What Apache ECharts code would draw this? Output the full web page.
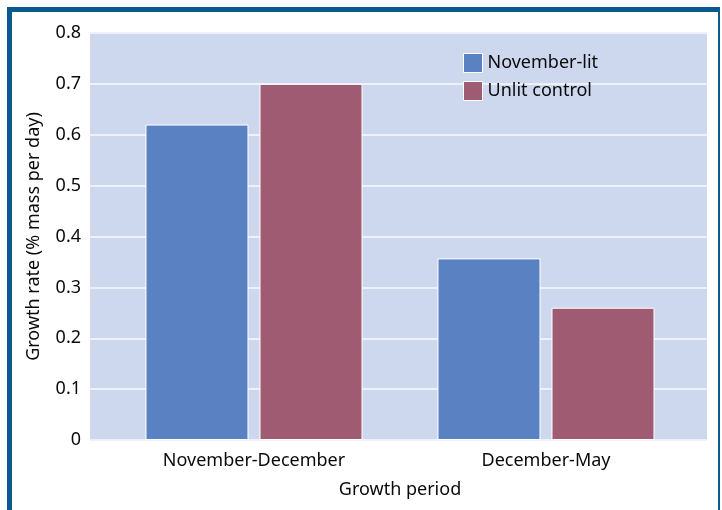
<!DOCTYPE html>
<html>
<head>
<meta charset="utf-8">
<script src="https://cdn.jsdelivr.net/npm/echarts@6/dist/echarts.min.js"></script>
<style>
  html, body { margin: 0; padding: 0; background: #fff; }
  #wrap { position: relative; width: 722px; height: 510px; overflow: hidden; }
  #chart { position: absolute; left: 0; top: 0; width: 722px; height: 510px; }
  #frame {
    position: absolute; left: 7px; top: 7px; width: 706px; height: 520px;
    border-top: 5px solid #0b5a8e; border-left: 5px solid #0b5a8e; border-right: 2px solid #0b5a8e;
    pointer-events: none;
  }
</style>
</head>
<body>
<div id="wrap">
  <div id="chart"></div>
  <div id="frame"></div>
</div>
<script>
var categories = ['November-December', 'December-May'];
var novemberLit = [0.62, 0.357];
var unlitControl = [0.70, 0.26];
var yTicks = [0, 0.1, 0.2, 0.3, 0.4, 0.5, 0.6, 0.7, 0.8];

var font = 'Noto Sans';
var txt = '#0a0a0a';

var option = {
  animation: false,
  textStyle: { fontFamily: font },
  grid: [
    // background + y axis
    { left: 90, right: 15, top: 33, bottom: 70, show: true, backgroundColor: '#cdd7ee', borderWidth: 0 },
    // bars
    { left: 108, right: 30, top: 33, bottom: 70 }
  ],
  legend: {
    orient: 'vertical',
    left: 463, top: 53, padding: 0,
    itemWidth: 19, itemHeight: 19, itemGap: 8,
    icon: 'rect',
    itemStyle: { borderColor: '#ffffff', borderWidth: 1 },
    textStyle: { fontSize: 18, lineHeight: 19, color: txt, fontFamily: font },
    data: ['November-lit', 'Unlit control']
  },
  xAxis: [
    {
      gridIndex: 0, type: 'value', min: 0, max: 1, show: false
    },
    {
      gridIndex: 1, type: 'category', data: categories,
      name: 'Growth period', nameLocation: 'middle', nameGap: 41,
      nameTextStyle: { fontSize: 18, color: txt, fontFamily: font },
      axisLine: { show: false }, axisTick: { show: false },
      axisLabel: { fontSize: 18, color: txt, margin: 12 }
    }
  ],
  yAxis: [
    {
      gridIndex: 0, type: 'value', min: 0, max: 0.8, interval: 0.1,
      name: 'Growth rate (% mass per day)', nameLocation: 'middle', nameGap: 47,
      nameTextStyle: { fontSize: 18, color: txt, fontFamily: font },
      axisLine: { show: false }, axisTick: { show: false },
      axisLabel: {
        fontSize: 18, color: txt, margin: 9,
        formatter: function (v) {
          var hit = yTicks.filter(function (t) { return Math.abs(t - v) < 1e-9; });
          return hit.length ? String(hit[0]) : '';
        }
      },
      splitLine: { show: true, lineStyle: { color: '#eef1f9', width: 2 } }
    },
    {
      gridIndex: 1, type: 'value', min: 0, max: 0.8, interval: 0.1, show: false,
      splitLine: { show: false }
    }
  ],
  series: [
    {
      name: 'November-lit', type: 'bar', xAxisIndex: 1, yAxisIndex: 1,
      data: novemberLit, barWidth: 103, barGap: '10.7%',
      itemStyle: { color: '#5a82c2', borderColor: '#ffffff', borderWidth: 1 }
    },
    {
      name: 'Unlit control', type: 'bar', xAxisIndex: 1, yAxisIndex: 1,
      data: unlitControl, barWidth: 103, barGap: '10.7%',
      itemStyle: { color: '#9e5b72', borderColor: '#ffffff', borderWidth: 1 }
    }
  ]
};

var chart = echarts.init(document.getElementById('chart'), null, { renderer: 'canvas' });
chart.setOption(option);
</script>
</body>
</html>
